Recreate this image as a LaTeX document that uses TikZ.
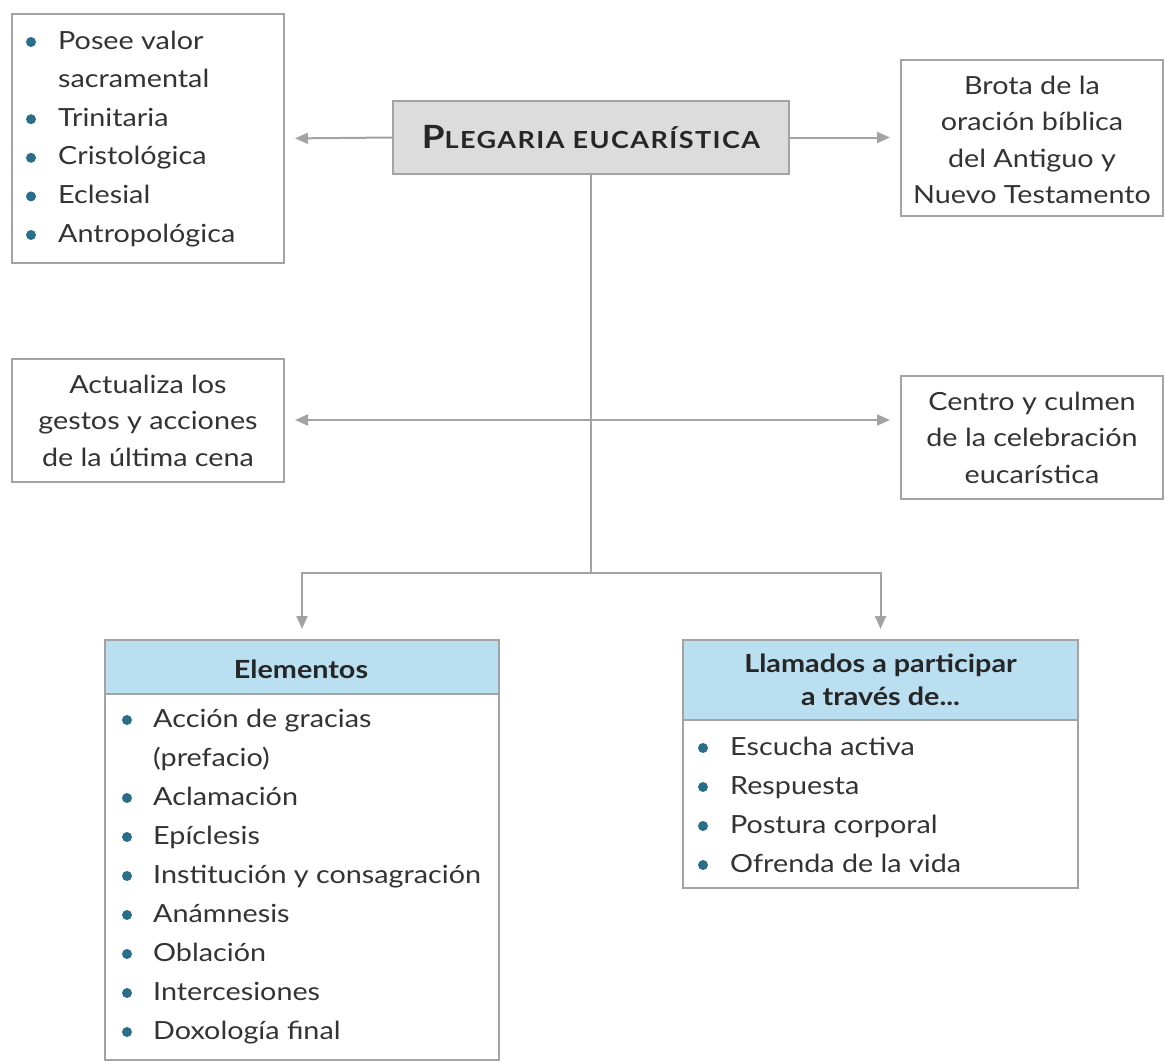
\documentclass[tikz,border=0pt]{standalone}
\usepackage{fontspec}
\setmainfont[FakeStretch=1.15]{Lato}
\usetikzlibrary{arrows.meta}
\definecolor{linec}{HTML}{A3A3A3}
\definecolor{txt}{HTML}{333333}
\definecolor{dotc}{HTML}{2B6E8A}
\definecolor{titlefill}{HTML}{DCDCDC}
\definecolor{headfill}{HTML}{B9DFF1}
\tikzset{
  box/.style={draw=linec, line width=2pt, fill=white, inner sep=0pt, anchor=north west},
  item/.style={text=txt, inner sep=0pt, anchor=base west, font=\fontsize{25}{30}\selectfont},
  ctext/.style={text=txt, inner sep=0pt, align=center, font=\fontsize{25}{36.5}\selectfont},
  htext/.style={text=black!85, inner sep=0pt, align=center, font=\bfseries\fontsize{25}{32.5}\selectfont},
  conn/.style={draw=linec, line width=2pt, -{Triangle[length=13pt,width=11pt]}, shorten >=10pt},
  both/.style={draw=linec, line width=2pt, {Triangle[length=13pt,width=11pt]}-{Triangle[length=13pt,width=11pt]}, shorten >=10pt, shorten <=10pt},
  plain/.style={draw=linec, line width=2pt},
  bul/.style={fill=dotc}
}
\begin{document}
\begin{tikzpicture}[x=1pt,y=-1pt]
\useasboundingbox (0,0) rectangle (1165,1061);

% title
\node[box, fill=titlefill, minimum width=396pt, minimum height=73pt, anchor=center] (title) at (591,137.5)
  {\bfseries\color{black!85}\addfontfeature{LetterSpace=6}{\fontsize{32}{32}\selectfont P}{\fontsize{23.5}{32}\selectfont LEGARIA EUCARÍSTICA}};

% top left list box
\node[box, minimum width=272pt, minimum height=249pt] (props) at (11,13) {};
\node[item] (p1) at (58,49) {Posee valor};
\node[item] (p1b) at (58,87.6) {sacramental};
\node[item] (p2) at (58,126.2) {Trinitaria};
\node[item] (p3) at (58,164.8) {Cristológica};
\node[item] (p4) at (58,203.4) {Eclesial};
\node[item] (p5) at (58,242) {Antropológica};
\foreach \y in {42,119.2,157.8,196.4,235} \fill[bul] (31,\y) circle (5pt);

% top right box
\node[box, minimum width=262pt, minimum height=156pt] (brota) at (900,59) {};
\node[ctext] (brotat) at ([yshift=-2pt]brota.center) {Brota de la\\oración bíblica\\del Antiguo y\\Nuevo Testamento};

% middle boxes
\node[box, minimum width=272pt, minimum height=123pt] (actual) at (11,358) {};
\node[ctext] (actualt) at (actual.center) {Actualiza los\\gestos y acciones\\de la última cena};
\node[box, minimum width=262pt, minimum height=123pt] (centro) at (900,375) {};
\node[ctext] (centrot) at (centro.center) {Centro y culmen\\de la celebración\\eucarística};

% Elementos box
\node[box, minimum width=394pt, minimum height=420pt] (elembody) at (104,639) {};
\node[box, fill=headfill, minimum width=394pt, minimum height=54pt] (elem) at (104,639) {};
\node[htext, anchor=base] (elemt) at (301,678) {Elementos};
\node[item] (e1) at (153,727) {Acción de gracias};
\node[item] (e1b) at (153,766) {(prefacio)};
\node[item] (e2) at (153,805) {Aclamación};
\node[item] (e3) at (153,844) {Epíclesis};
\node[item] (e4) at (153,883) {Institución y consagración};
\node[item] (e5) at (153,922) {Anámnesis};
\node[item] (e6) at (153,961) {Oblación};
\node[item] (e7) at (153,1000) {Intercesiones};
\node[item] (e8) at (153,1039) {Doxología final};
\foreach \y in {720,798,837,876,915,954,993,1032} \fill[bul] (127,\y) circle (5pt);

% Llamados box
\node[box, minimum width=395pt, minimum height=248pt] (llambody) at (682,639) {};
\node[box, fill=headfill, minimum width=395pt, minimum height=80pt] (llam) at (682,639) {};
\node[htext] (llamt) at (llam.center) {Llamados a participar\\a través de...};
\node[item] (l1) at (730,755) {Escucha activa};
\node[item] (l2) at (730,794) {Respuesta};
\node[item] (l3) at (730,833) {Postura corporal};
\node[item] (l4) at (730,872) {Ofrenda de la vida};
\foreach \y in {748,787,826,865} \fill[bul] (703,\y) circle (5pt);

% connectors
\coordinate (mid) at (591,420);
\coordinate (split) at (591,573);
\draw[conn] (title.west) -- (props.east);
\draw[conn] (title.east) -- (brota.west |- title.east);
\draw[plain] (title.south) -- (split);
\draw[both] (mid -| actual.east) -- (mid -| centro.west);
\draw[conn] (split) -| (elem.north);
\draw[conn] (split) -| (llam.north);
\end{tikzpicture}
\end{document}
